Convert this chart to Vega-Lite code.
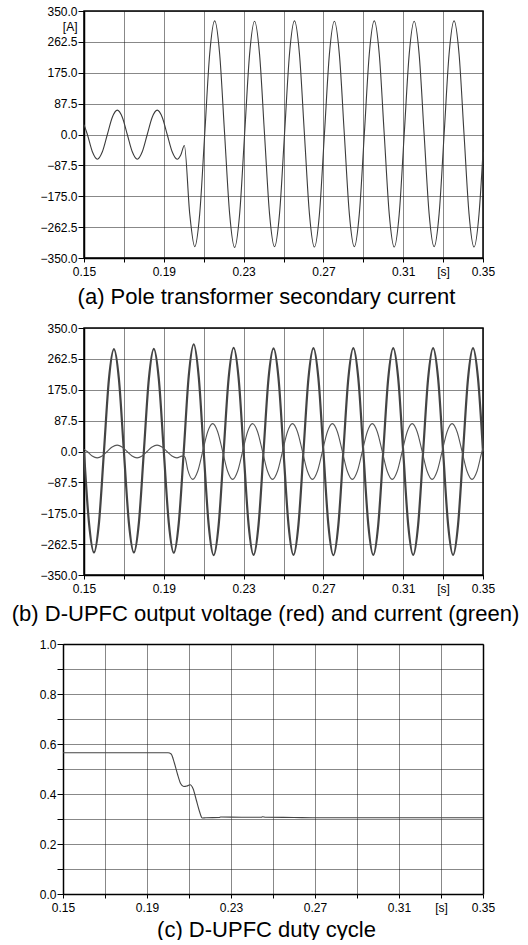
{
  "$schema": "https://vega.github.io/schema/vega-lite/v6.json",
  "background": "white",
  "padding": {"left": 3, "top": 4, "right": 0, "bottom": 0},
  "spacing": 13,
  "datasets": {
    "a": [
      {"t":0.15,"v":28},{"t":0.1517,"v":0},{"t":0.1542,"v":-49},{"t":0.1567,"v":-70},{"t":0.1592,"v":-49},{"t":0.1617,"v":0},{"t":0.1642,"v":49},{"t":0.1667,"v":69},{"t":0.1692,"v":49},{"t":0.1717,"v":0},{"t":0.1742,"v":-49},{"t":0.1767,"v":-70},{"t":0.1792,"v":-49},{"t":0.1817,"v":0},{"t":0.1842,"v":49},{"t":0.1867,"v":69},{"t":0.1892,"v":49},{"t":0.1917,"v":0},{"t":0.1942,"v":-49},{"t":0.1967,"v":-70},{"t":0.1985,"v":-58},{"t":0.2003,"v":-31},{"t":0.203,"v":-225},
      {"t":0.2055,"v":-318},{"t":0.208,"v":-225},{"t":0.2105,"v":0},{"t":0.213,"v":228},{"t":0.2155,"v":322},{"t":0.218,"v":228},{"t":0.2205,"v":0},{"t":0.223,"v":-225},
      {"t":0.2255,"v":-320},{"t":0.228,"v":-226},{"t":0.2305,"v":0},{"t":0.233,"v":227},{"t":0.2355,"v":321},{"t":0.238,"v":227},{"t":0.2405,"v":0},{"t":0.243,"v":-225},
      {"t":0.2455,"v":-318},{"t":0.248,"v":-225},{"t":0.2505,"v":0},{"t":0.253,"v":228},{"t":0.2555,"v":322},{"t":0.258,"v":228},{"t":0.2605,"v":0},{"t":0.263,"v":-225},
      {"t":0.2655,"v":-319},{"t":0.268,"v":-226},{"t":0.2705,"v":0},{"t":0.273,"v":227},{"t":0.2755,"v":321},{"t":0.278,"v":227},{"t":0.2805,"v":0},{"t":0.283,"v":-225},
      {"t":0.2855,"v":-318},{"t":0.288,"v":-225},{"t":0.2905,"v":0},{"t":0.293,"v":228},{"t":0.2955,"v":322},{"t":0.298,"v":228},{"t":0.3005,"v":0},{"t":0.303,"v":-225},
      {"t":0.3055,"v":-319},{"t":0.308,"v":-226},{"t":0.3105,"v":0},{"t":0.313,"v":227},{"t":0.3155,"v":321},{"t":0.318,"v":227},{"t":0.3205,"v":0},{"t":0.323,"v":-225},
      {"t":0.3255,"v":-318},{"t":0.328,"v":-225},{"t":0.3305,"v":0},{"t":0.333,"v":228},{"t":0.3355,"v":322},{"t":0.338,"v":228},{"t":0.3405,"v":0},{"t":0.343,"v":-225},
      {"t":0.3455,"v":-319},{"t":0.348,"v":-226},{"t":0.35,"v":-50}
    ],
    "bv": [
      {"t":0.15,"v":0},{"t":0.1525,"v":-202},{"t":0.155,"v":-286},{"t":0.1575,"v":-202},{"t":0.16,"v":0},{"t":0.1625,"v":205},{"t":0.165,"v":290},{"t":0.1675,"v":205},
      {"t":0.17,"v":0},{"t":0.1725,"v":-202},{"t":0.175,"v":-286},{"t":0.1775,"v":-202},{"t":0.18,"v":0},{"t":0.1825,"v":205},{"t":0.185,"v":291},{"t":0.1875,"v":205},
      {"t":0.19,"v":0},{"t":0.1925,"v":-202},{"t":0.195,"v":-287},{"t":0.1975,"v":-203},{"t":0.2,"v":0},{"t":0.2025,"v":214},{"t":0.205,"v":304},{"t":0.2075,"v":212},
      {"t":0.21,"v":0},{"t":0.2125,"v":-208},{"t":0.215,"v":-294},{"t":0.2175,"v":-208},{"t":0.22,"v":0},{"t":0.2225,"v":208},{"t":0.225,"v":294},{"t":0.2275,"v":208},
      {"t":0.23,"v":0},{"t":0.2325,"v":-207},{"t":0.235,"v":-293},{"t":0.2375,"v":-207},{"t":0.24,"v":0},{"t":0.2425,"v":207},{"t":0.245,"v":292},{"t":0.2475,"v":207},
      {"t":0.25,"v":0},{"t":0.2525,"v":-207},{"t":0.255,"v":-293},{"t":0.2575,"v":-207},{"t":0.26,"v":0},{"t":0.2625,"v":207},{"t":0.265,"v":293},{"t":0.2675,"v":207},
      {"t":0.27,"v":0},{"t":0.2725,"v":-208},{"t":0.275,"v":-294},{"t":0.2775,"v":-208},{"t":0.28,"v":0},{"t":0.2825,"v":207},{"t":0.285,"v":293},{"t":0.2875,"v":207},
      {"t":0.29,"v":0},{"t":0.2925,"v":-207},{"t":0.295,"v":-293},{"t":0.2975,"v":-207},{"t":0.3,"v":0},{"t":0.3025,"v":207},{"t":0.305,"v":293},{"t":0.3075,"v":207},
      {"t":0.31,"v":0},{"t":0.3125,"v":-207},{"t":0.315,"v":-293},{"t":0.3175,"v":-207},{"t":0.32,"v":0},{"t":0.3225,"v":207},{"t":0.325,"v":293},{"t":0.3275,"v":207},
      {"t":0.33,"v":0},{"t":0.3325,"v":-207},{"t":0.335,"v":-293},{"t":0.3375,"v":-207},{"t":0.34,"v":0},{"t":0.3425,"v":207},{"t":0.345,"v":293},{"t":0.3475,"v":207},
      {"t":0.35,"v":0}
    ],
    "bi": [
      {"t":0.15,"v":6},{"t":0.1516,"v":0},{"t":0.1541,"v":-12.7},{"t":0.1566,"v":-18},{"t":0.1591,"v":-12.7},{"t":0.1616,"v":0},{"t":0.1641,"v":12.7},{"t":0.1666,"v":18},{"t":0.1691,"v":12.7},
      {"t":0.1716,"v":0},{"t":0.1741,"v":-12.7},{"t":0.1766,"v":-18},{"t":0.1791,"v":-12.7},{"t":0.1816,"v":0},{"t":0.1841,"v":12.7},{"t":0.1866,"v":18},{"t":0.1891,"v":12.7},
      {"t":0.1916,"v":0},{"t":0.1941,"v":-12.7},{"t":0.1966,"v":-18},{"t":0.1991,"v":-13},{"t":0.2005,"v":-15},{"t":0.202,"v":-52},
      {"t":0.2045,"v":-79},{"t":0.207,"v":-56},{"t":0.2095,"v":0},{"t":0.212,"v":56},{"t":0.2145,"v":79},{"t":0.217,"v":56},{"t":0.2195,"v":0},{"t":0.222,"v":-56},
      {"t":0.2245,"v":-79},{"t":0.227,"v":-56},{"t":0.2295,"v":0},{"t":0.232,"v":56},{"t":0.2345,"v":79},{"t":0.237,"v":56},{"t":0.2395,"v":0},{"t":0.242,"v":-56},
      {"t":0.2445,"v":-79},{"t":0.247,"v":-56},{"t":0.2495,"v":0},{"t":0.252,"v":56},{"t":0.2545,"v":79},{"t":0.257,"v":56},{"t":0.2595,"v":0},{"t":0.262,"v":-56},
      {"t":0.2645,"v":-79},{"t":0.267,"v":-56},{"t":0.2695,"v":0},{"t":0.272,"v":56},{"t":0.2745,"v":79},{"t":0.277,"v":56},{"t":0.2795,"v":0},{"t":0.282,"v":-56},
      {"t":0.2845,"v":-79},{"t":0.287,"v":-56},{"t":0.2895,"v":0},{"t":0.292,"v":56},{"t":0.2945,"v":79},{"t":0.297,"v":56},{"t":0.2995,"v":0},{"t":0.302,"v":-56},
      {"t":0.3045,"v":-79},{"t":0.307,"v":-56},{"t":0.3095,"v":0},{"t":0.312,"v":56},{"t":0.3145,"v":79},{"t":0.317,"v":56},{"t":0.3195,"v":0},{"t":0.322,"v":-56},
      {"t":0.3245,"v":-79},{"t":0.327,"v":-56},{"t":0.3295,"v":0},{"t":0.332,"v":56},{"t":0.3345,"v":79},{"t":0.337,"v":56},{"t":0.3395,"v":0},{"t":0.342,"v":-56},
      {"t":0.3445,"v":-79},{"t":0.347,"v":-56},{"t":0.3495,"v":0},{"t":0.35,"v":9}
    ],
    "c": [
      {"t":0.15,"v":0.565},{"t":0.2,"v":0.565},{"t":0.2015,"v":0.56},{"t":0.203,"v":0.525},{"t":0.2045,"v":0.48},{"t":0.206,"v":0.442},{"t":0.2075,"v":0.43},{"t":0.209,"v":0.432},{"t":0.2105,"v":0.437},{"t":0.212,"v":0.42},{"t":0.2135,"v":0.375},{"t":0.215,"v":0.33},{"t":0.2163,"v":0.304},{"t":0.218,"v":0.305},{"t":0.2245,"v":0.306},{"t":0.225,"v":0.308},{"t":0.235,"v":0.307},{"t":0.2445,"v":0.307},{"t":0.245,"v":0.309},{"t":0.2465,"v":0.307},{"t":0.26,"v":0.306},{"t":0.27,"v":0.305},{"t":0.3,"v":0.305},{"t":0.35,"v":0.305}
    ]
  },
  "vconcat": [
    {
      "width": 399, "height": 247,
      "data": {"name": "a"},
      "mark": {"type": "line", "interpolate": "monotone", "color": "#3c3c3c", "strokeWidth": 1.1},
      "encoding": {
        "x": {"field": "t", "type": "quantitative", "scale": {"domain": [0.15, 0.35], "nice": false, "zero": false},
          "axis": {"values": [0.15,0.17,0.19,0.21,0.23,0.25,0.27,0.29,0.31,0.33,0.35],
            "labelExpr": "datum.value == 0.33 ? '[s]' : (indexof([0.15,0.19,0.23,0.27,0.31,0.35], datum.value) >= 0 ? format(datum.value, '.2f') : '')",
            "tickSize": 4, "labelPadding": 4, "labelOverlap": false,
            "title": "(a) Pole transformer secondary current", "titleX": 182, "titleY": 45, "titleAlign": "center", "titleBaseline": "alphabetic"}},
        "y": {"field": "v", "type": "quantitative", "scale": {"domain": [-350, 350], "nice": false, "zero": false},
          "axis": {"values": [-350,-262.5,-175,-87.5,0,87.5,175,262.5,350,306.25],
            "labelExpr": "datum.value == 306.25 ? '[A]' : format(datum.value, '.1f')",
            "tickSize": 6, "labelPadding": 1, "labelOverlap": false, "title": null, "minExtent": 80,
            "tickOpacity": {"condition": {"test": "datum.value == 306.25", "value": 0}, "value": 1},
            "gridOpacity": {"condition": {"test": "datum.value == 306.25", "value": 0}, "value": 1}}}
      }
    },
    {
      "width": 399, "height": 247,
      "encoding": {
        "x": {"field": "t", "type": "quantitative", "scale": {"domain": [0.15, 0.35], "nice": false, "zero": false},
          "axis": {"values": [0.15,0.17,0.19,0.21,0.23,0.25,0.27,0.29,0.31,0.33,0.35],
            "labelExpr": "datum.value == 0.33 ? '[s]' : (indexof([0.15,0.19,0.23,0.27,0.31,0.35], datum.value) >= 0 ? format(datum.value, '.2f') : '')",
            "tickSize": 4, "labelPadding": 4, "labelOverlap": false,
            "title": "(b) D-UPFC output voltage (red) and current (green)", "titleX": 181, "titleY": 45, "titleAlign": "center", "titleBaseline": "alphabetic"}},
        "y": {"field": "v", "type": "quantitative", "scale": {"domain": [-350, 350], "nice": false, "zero": false},
          "axis": {"values": [-350,-262.5,-175,-87.5,0,87.5,175,262.5,350],
            "labelExpr": "format(datum.value, '.1f')", "labelOverlap": false,
            "tickSize": 6, "labelPadding": 1, "title": null, "minExtent": 80}}
      },
      "layer": [
        {
          "data": {"name": "bv"},
          "mark": {"type": "line", "interpolate": "monotone", "color": "#444444", "strokeWidth": 2.2}
        },
        {
          "data": {"name": "bi"},
          "mark": {"type": "line", "interpolate": "monotone", "color": "#555555", "strokeWidth": 1.1}
        }
      ]
    },
    {
      "width": 399, "height": 250,
      "view": {"stroke": null},
      "data": {"name": "c"},
      "layer": [
        {
          "mark": {"type": "line", "interpolate": "monotone", "color": "#444444", "strokeWidth": 1.1, "clip": false},
          "encoding": {
            "x": {"field": "t", "type": "quantitative", "scale": {"domain": [0.15, 0.35], "range": [-21, 399], "nice": false, "zero": false},
              "axis": {"values": [0.15,0.17,0.19,0.21,0.23,0.25,0.27,0.29,0.31,0.33,0.35],
                "labelExpr": "datum.value == 0.33 ? '[s]' : (indexof([0.15,0.19,0.23,0.27,0.31,0.35], datum.value) >= 0 ? format(datum.value, '.2f') : '')",
                "tickSize": 4, "labelPadding": 4, "labelOverlap": false,
                "title": "(c) D-UPFC duty cycle", "titleX": 182, "titleY": 42, "titleAlign": "center", "titleBaseline": "alphabetic"}},
            "y": {"field": "v", "type": "quantitative", "scale": {"domain": [0, 1], "nice": false, "zero": false},
              "axis": {"values": [0,0.1,0.2,0.3,0.4,0.5,0.6,0.7,0.8,0.9,1],
                "labelExpr": "indexof([0,0.2,0.4,0.6,0.8,1], datum.value) >= 0 ? format(datum.value, '.1f') : ''",
                "tickSize": 6, "labelPadding": 1, "labelOverlap": false, "title": null, "offset": 21}}
          }
        },
        {
          "mark": {"type": "line", "interpolate": "monotone", "color": "#444444", "strokeWidth": 1.1, "strokeOpacity": 0, "clip": false},
          "encoding": {
            "x": {"field": "t", "type": "quantitative",
              "axis": {"orient": "top", "grid": false, "ticks": false, "labels": false, "title": null, "domain": true}},
            "y": {"field": "v", "type": "quantitative",
              "axis": {"orient": "right", "grid": false, "ticks": false, "labels": false, "title": null, "domain": true}}
          }
        }
      ],
      "resolve": {"axis": {"x": "independent", "y": "independent"}}
    }
  ],
  "config": {
    "view": {"stroke": "#000000", "strokeWidth": 1.5},
    "axis": {
      "domainColor": "#000000", "domainWidth": 1.5,
      "tickColor": "#000000", "tickWidth": 1,
      "grid": true, "gridColor": "#111111", "gridDash": [1, 1], "gridWidth": 1,
      "labelFont": "Liberation Sans", "labelFontSize": 12, "labelColor": "#000000",
      "labelOverlap": false, "labelBound": false, "labelFlush": false,
      "titleFont": "Liberation Sans", "titleFontSize": 22, "titleFontWeight": "normal", "titleColor": "#000000"
    }
  }
}
